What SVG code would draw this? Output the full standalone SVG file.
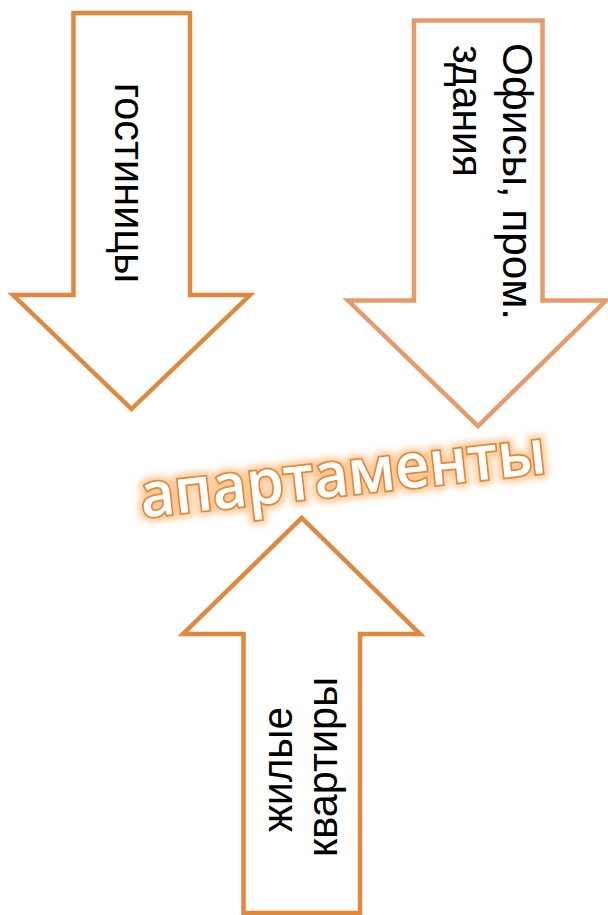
<svg xmlns="http://www.w3.org/2000/svg" width="608" height="915" viewBox="0 0 608 915">
  <defs>
    <style>
      .arrow { fill: #FFFFFF; stroke: #E0883C; stroke-width: 4.5; stroke-linejoin: miter; }
      .arrow.light { stroke: #E69C6A; }
      .lbl { font-family: "Liberation Sans", Arial, sans-serif; font-size: 42px; fill: #000000; }
      .center { font-family: "Open Sans", "Noto Sans", sans-serif; font-weight: 600; font-size: 62px; fill: #FFFFFF; stroke: #E0883C; stroke-width: 3.5; paint-order: stroke; }
    </style>
    <filter id="glow" x="-10%" y="-50%" width="120%" height="200%">
      <feMorphology in="SourceAlpha" operator="dilate" radius="2.5" result="d"/>
      <feGaussianBlur in="d" stdDeviation="3.5" result="b"/>
      <feFlood flood-color="#F7A24A" flood-opacity="0.6"/>
      <feComposite in2="b" operator="in" result="g"/>
      <feMerge>
        <feMergeNode in="g"/>
        <feMergeNode in="SourceGraphic"/>
      </feMerge>
    </filter>
  </defs>
  <rect width="608" height="915" fill="#FFFFFF"/>

  <g id="connectors">
    <g id="arrow-hotels">
      <polygon class="arrow" points="73.5,13 190,13 190,295 250,295 131.5,409 13,295 73.5,295"/>
      <text class="lbl" transform="translate(115,83) rotate(90)" textLength="200" lengthAdjust="spacingAndGlyphs">гостиницы</text>
    </g>
    <g id="arrow-offices">
      <polygon class="arrow light" points="414,20.5 542.5,20.5 542.5,300.5 606,300.5 478,426 348,300.5 414,300.5"/>
      <text class="lbl" transform="translate(503,43) rotate(90)" textLength="277" lengthAdjust="spacingAndGlyphs">Офисы, пром.</text>
      <text class="lbl" transform="translate(453,45) rotate(90)" textLength="132" lengthAdjust="spacingAndGlyphs">здания</text>
    </g>
    <g id="arrow-flats">
      <polygon class="arrow" points="243.5,913 243.5,634 183,634 301.7,518 420,634 360,634 360,913"/>
      <text class="lbl" transform="translate(292,832) rotate(-90)" textLength="125" lengthAdjust="spacingAndGlyphs">жилые</text>
      <text class="lbl" transform="translate(337,857) rotate(-90)" textLength="180" lengthAdjust="spacingAndGlyphs">квартиры</text>
    </g>
  </g>

  <g id="node-apartments" filter="url(#glow)">
    <text class="center" transform="translate(345,495) rotate(-6.3)" text-anchor="middle" textLength="408" lengthAdjust="spacingAndGlyphs">апартаменты</text>
  </g>
</svg>
